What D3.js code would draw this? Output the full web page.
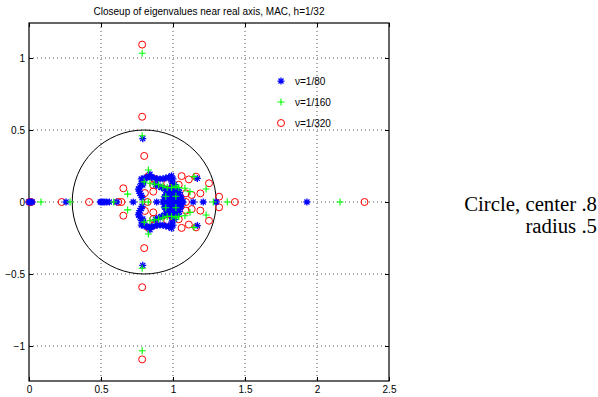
<!DOCTYPE html>
<html>
<head>
<meta charset="utf-8">
<script src="https://cdn.jsdelivr.net/npm/d3@7"></script>
<style>
  body { margin: 0; background: #fff; }
  svg { display: block; font-family: "Liberation Sans", Arial, Helvetica, sans-serif; }
</style>
</head>
<body>
<svg id="chart" width="598" height="397"></svg>
<script>
"use strict";

// Axis ticks
const xTicks = [0, 0.5, 1, 1.5, 2, 2.5];
const yTicks = [-1, -0.5, 0, 0.5, 1];

// Eigenvalues on the real axis, per viscosity
const realNu80 = [0, 0.006, 0.014, 0.022, 0.257, 0.495, 0.505, 0.515, 0.526, 0.54, 0.558, 0.61, 0.724, 0.887,
    0.93, 0.95, 0.97, 0.99, 1.01, 1.03, 1.05, 1.07, 1.14, 1.21, 1.3, 1.93];
const realNu160 = [0.083, 0.285, 0.588, 0.79, 0.828, 1.28, 1.377, 2.16];
const realNu320 = [0.002, 0.016, 0.227, 0.417, 0.62, 0.642, 0.824, 1.09, 1.43, 2.33];

// Complex eigenvalues, upper half plane [re, im] (conjugates are drawn too)
const complexNu80 = [
    [0.79, 0.44], [0.84, 0.192], [0.83, 0.176],
    [0.78, 0.16], [0.8, 0.166], [0.82, 0.17], [0.85, 0.172], [0.87, 0.166], [0.89, 0.162],
    [0.91, 0.16], [0.93, 0.162], [0.95, 0.166], [0.97, 0.172], [0.99, 0.182], [1.0, 0.16], [0.99, 0.14],
    [0.78, 0.13], [0.79, 0.118], [0.795, 0.142], [0.76, 0.09], [0.765, 0.075], [0.77, 0.06],
    [0.78, 0.045], [0.785, 0.03], [0.77, 0.105],
    [0.88, 0.12], [0.9, 0.11], [0.92, 0.1], [0.94, 0.09], [0.96, 0.08], [0.98, 0.07],
    [0.95, 0.05], [0.97, 0.06], [0.99, 0.055], [1.01, 0.06], [1.03, 0.05], [1.05, 0.04],
    [0.96, 0.03], [0.98, 0.03], [1.0, 0.03], [1.02, 0.03], [1.04, 0.02], [0.94, 0.015],
    [1.06, 0.015], [1.0, 0.08], [0.99, 0.1], [1.01, 0.12],
    [0.97, 0.012], [1.0, 0.012], [1.03, 0.01], [0.955, 0.045], [1.02, 0.075], [0.98, 0.088],
    [1.035, 0.085], [0.965, 0.07], [1.045, 0.065], [0.94, 0.035],
    [0.985, 0.02], [1.015, 0.02], [0.99, 0.04], [1.01, 0.045], [1.03, 0.035], [1.055, 0.03],
    [0.975, 0.045], [0.96, 0.06], [1.0, 0.065], [1.02, 0.09], [1.005, 0.1],
    [1.169, 0.164]
];
const complexNu160 = [
    [0.786, 1.033], [0.786, 0.46], [0.829, 0.222], [0.685, 0.055],
    [0.8, 0.14], [0.84, 0.13], [0.87, 0.125], [0.9, 0.12], [0.93, 0.11], [0.96, 0.1],
    [0.99, 0.1], [1.02, 0.11], [1.04, 0.1], [0.95, 0.04], [1.02, 0.04],
    [1.083, 0.095], [1.118, 0.072], [1.146, 0.176], [1.23, 0.09]
];
const complexNu320 = [
    [0.786, 1.093], [0.786, 0.592], [0.8, 0.32], [0.83, 0.18],
    [0.655, 0.095], [0.805, 0.062], [0.863, 0.072], [0.863, 0.118], [0.87, 0.16],
    [1.06, 0.18], [1.11, 0.157], [1.16, 0.176], [1.25, 0.13], [1.19, 0.06], [1.09, 0.06],
    [1.13, 0.049], [1.32, 0.037], [1.04, 0.12], [0.96, 0.13]
];

const legendLabels = ["\u03bd=1/80", "\u03bd=1/160", "\u03bd=1/320"];

// Reference circle
const circleCenter = 0.8, circleRadius = 0.5;

function withConjugates(realVals, complexVals) {
    const pts = realVals.map((r) => [r, 0]);
    complexVals.forEach(([re, im]) => { pts.push([re, im]); pts.push([re, -im]); });
    return pts;
}

const series = [
    {label: legendLabels[0], color: "#0000ff", marker: "star", pts: withConjugates(realNu80, complexNu80)},
    {label: legendLabels[1], color: "#00ff00", marker: "plus", pts: withConjugates(realNu160, complexNu160)},
    {label: legendLabels[2], color: "#ff0000", marker: "circle", pts: withConjugates(realNu320, complexNu320)}
];

const margin = {top: 23, left: 29},
    width = 360, height = 358;

const svg = d3.select("#chart");
const plot = svg.append("g").attr("transform", `translate(${margin.left},${margin.top})`);

const x = d3.scaleLinear().domain([0, 2.5]).range([0, width]);
const yHalf = height / 2 / (width / 2.5);
const y = d3.scaleLinear().domain([-yHalf, yHalf]).range([height, 0]);

// Dotted grid
const grid = plot.append("g").attr("class", "grid");
grid.selectAll("line.gx").data(xTicks.slice(1, -1)).join("line").attr("class", "gx")
    .attr("x1", (d) => x(d)).attr("x2", (d) => x(d))
    .attr("y1", 0).attr("y2", height);
grid.selectAll("line.gy").data(yTicks).join("line").attr("class", "gy")
    .attr("x1", 0).attr("x2", width)
    .attr("y1", (d) => y(d)).attr("y2", (d) => y(d));
grid.selectAll("line")
    .attr("stroke", "#555").attr("stroke-width", 1).attr("stroke-dasharray", "1,3");

// Axes with inward ticks
const fmt = (d) => d3.format("")(d).replace("-", "\u2212");
const axB = plot.append("g").attr("transform", `translate(0,${height})`)
    .call(d3.axisBottom(x).tickValues(xTicks).tickSize(-4).tickPadding(5).tickFormat(fmt));
const axT = plot.append("g")
    .call(d3.axisTop(x).tickValues(xTicks).tickSize(-4).tickFormat(""));
const axL = plot.append("g")
    .call(d3.axisLeft(y).tickValues(yTicks).tickSize(-4).tickPadding(4).tickFormat(fmt));
const axR = plot.append("g").attr("transform", `translate(${width},0)`)
    .call(d3.axisRight(y).tickValues(yTicks).tickSize(-4).tickFormat(""));
[axB, axT, axL, axR].forEach((a) => {
    a.select(".domain").remove();
    a.selectAll("line").attr("stroke", "#000");
    a.selectAll("text").attr("font-size", 10).attr("fill", "#000")
        .attr("font-family", "'Liberation Sans', Arial, sans-serif");
});

plot.append("rect")
    .attr("width", width).attr("height", height)
    .attr("fill", "none").attr("stroke", "#000").attr("stroke-width", 1.2);

// Circle
plot.append("circle")
    .attr("cx", x(circleCenter)).attr("cy", y(0))
    .attr("r", x(circleRadius) - x(0))
    .attr("fill", "none").attr("stroke", "#000").attr("stroke-width", 1);

function drawMarker(sel, type, color) {
    const s = 3.5;
    if (type === "circle") {
        sel.append("circle").attr("r", s).attr("fill", "none")
            .attr("stroke", color).attr("stroke-width", 1);
    } else {
        let d = `M${-s},0H${s}M0,${-s}V${s}`;
        if (type === "star") {
            const k = s * 0.72;
            d += `M${-k},${-k}L${k},${k}M${-k},${k}L${k},${-k}`;
        }
        sel.append("path").attr("d", d).attr("fill", "none")
            .attr("stroke", color).attr("stroke-width", type === "star" ? 1.3 : 1.1);
    }
}

// Draw order: red, blue, green
const drawOrder = [2, 0, 1];
drawOrder.forEach((i) => {
    const s = series[i];
    plot.append("g").selectAll("g").data(s.pts).join("g")
        .attr("transform", (d) => `translate(${x(d[0])},${y(d[1])})`)
        .each(function () { drawMarker(d3.select(this), s.marker, s.color); });
});

// Legend
const legend = plot.append("g").attr("transform", `translate(${x(1.75)},${y(0.84)})`);
series.forEach((s, i) => {
    const g = legend.append("g").attr("transform", `translate(0,${i * 21})`);
    drawMarker(g, s.marker, s.color);
    g.append("text").attr("x", 14).attr("y", 3.5)
        .attr("font-size", 10).attr("fill", "#000").text(s.label);
});

// Title
svg.append("text")
    .attr("x", margin.left + width / 2).attr("y", 15)
    .attr("text-anchor", "middle").attr("font-size", 10).attr("fill", "#000")
    .text("Closeup of eigenvalues near real axis, MAC, h=1/32");

// Side note
const note = svg.append("g")
    .style("font-family", "'Liberation Serif', 'Times New Roman', serif")
    .attr("font-size", 20.8).attr("text-anchor", "end").attr("fill", "#000");
note.append("text").attr("x", 597).attr("y", 211).text("Circle, center .8");
note.append("text").attr("x", 597).attr("y", 233).text("radius .5");
</script>
</body>
</html>
